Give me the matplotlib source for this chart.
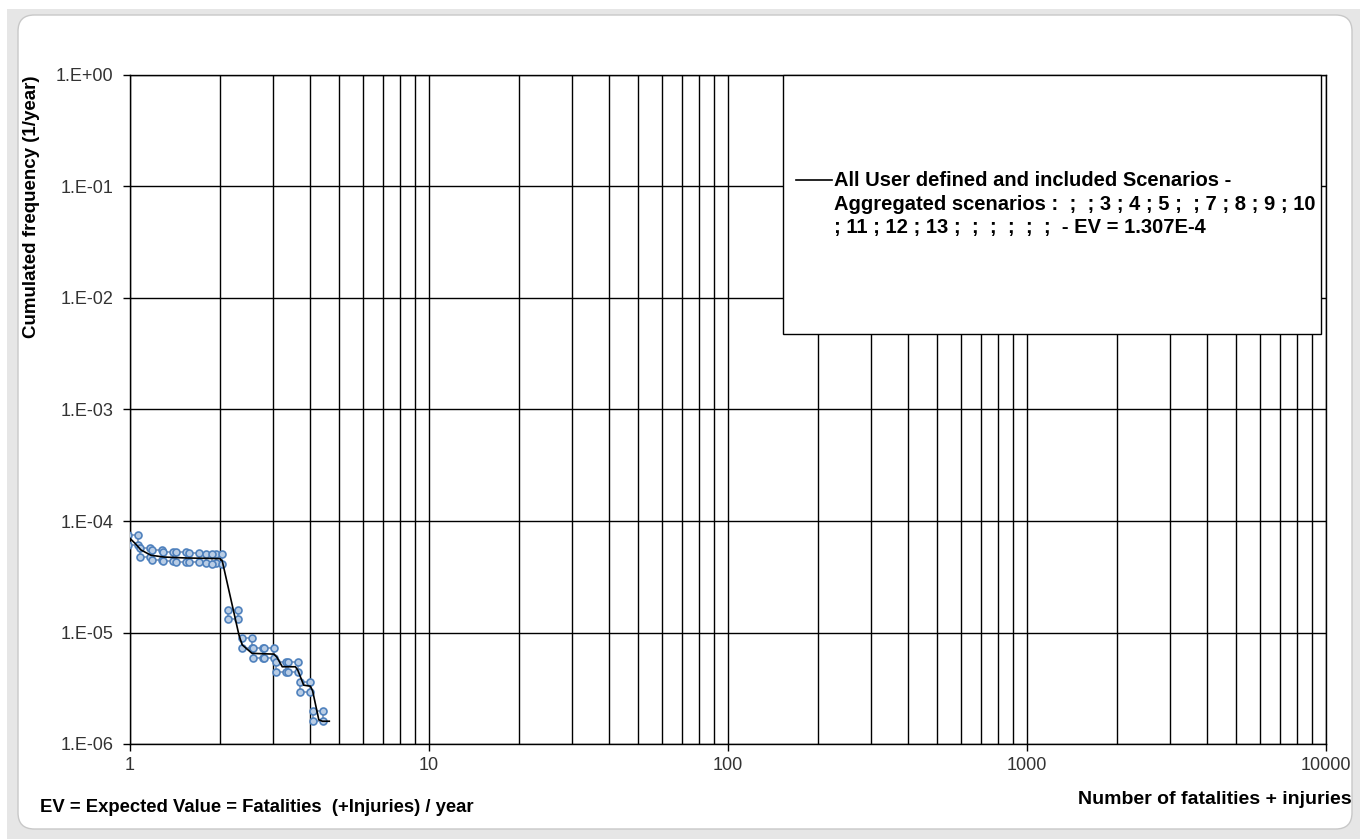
import numpy as np
import matplotlib
matplotlib.use('Agg')
import matplotlib.pyplot as plt
from matplotlib.patches import Rectangle, FancyBboxPatch
from matplotlib.lines import Line2D
from matplotlib.ticker import FixedLocator, FixedFormatter, NullFormatter

plt.rcParams['font.family'] = ['Liberation Sans', 'DejaVu Sans']

# curva F-N agregada (linha preta)
fn_x = [1.0, 1.04, 1.088, 1.175, 1.30, 1.54, 2.0, 2.035, 2.314, 2.373, 2.56, 3.03,
        3.10, 3.23, 3.575, 3.64, 3.81, 4.01, 4.08, 4.28, 4.40, 4.64]
fn_y = [6.98e-5, 6.3e-5, 5.5e-5, 4.93e-5, 4.75e-5, 4.66e-5, 4.6e-5, 4.38e-5, 9.5e-6, 7.74e-6,
        6.5e-6, 6.4e-6, 6.0e-6, 4.93e-6, 4.93e-6, 4.6e-6, 3.37e-6, 3.3e-6, 3.0e-6, 1.65e-6,
        1.6e-6, 1.6e-6]

# cenarios individuais (retangulos azuis)
sc_x = [1.02, 1.125, 1.227, 1.342, 1.486, 1.638, 1.862, 1.96,
        2.21, 2.455, 2.68, 2.91, 3.21, 3.50, 3.86, 4.24]
sc_y = [6.78e-5, 5.21e-5, 4.93e-5, 4.80e-5, 4.73e-5, 4.70e-5, 4.60e-5, 4.54e-5,
        1.45e-5, 8.05e-6, 6.5e-6, 6.5e-6, 4.93e-6, 4.93e-6, 3.26e-6, 1.77e-6]

x_ticks = [1, 10, 100, 1000, 10000]
x_labels = ['1', '10', '100', '1000', '10000']
y_ticks = [1e-6, 1e-5, 1e-4, 1e-3, 1e-2, 1e-1, 1e0]
y_labels = ['1.E-06', '1.E-05', '1.E-04', '1.E-03', '1.E-02', '1.E-01', '1.E+00']

legend_lines = ['All User defined and included Scenarios -',
                'Aggregated scenarios :  ;  ; 3 ; 4 ; 5 ;  ; 7 ; 8 ; 9 ; 10',
                '; 11 ; 12 ; 13 ;  ;  ;  ;  ;  ;  - EV = 1.307E-4']

W, H = 1360, 839
fig = plt.figure(figsize=(W / 100, H / 100), dpi=100)
fig.patch.set_facecolor('white')

# moldura do grafico (estilo Excel)
fig.patches.append(Rectangle((7 / W, 0), 1 - 7 / W, (H - 9) / H, transform=fig.transFigure,
                             facecolor='#e6e6e6', edgecolor='none', zorder=-3))
fig.patches.append(FancyBboxPatch((18 / W, 1 - 829 / H), (1352 - 18) / W, (829 - 15) / H,
                                  boxstyle='round,pad=0,rounding_size=0.012',
                                  mutation_aspect=W / H, transform=fig.transFigure,
                                  facecolor='white', edgecolor='#c8c8c8', lw=1, zorder=-2))

ax = fig.add_axes([130 / W, 1 - 744 / H, (1326 - 130) / W, (744 - 75) / H])
ax.set_facecolor('none')
ax.set_xscale('log')
ax.set_yscale('log')
ax.set_xlim(1, 10000)
ax.set_ylim(1e-6, 1)

ax.xaxis.set_major_locator(FixedLocator(x_ticks))
ax.xaxis.set_major_formatter(FixedFormatter(x_labels))
minor_x = [m * d for d in [1, 10, 100, 1000] for m in range(2, 10)]
ax.xaxis.set_minor_locator(FixedLocator(minor_x))
ax.xaxis.set_minor_formatter(NullFormatter())
ax.yaxis.set_major_locator(FixedLocator(y_ticks))
ax.yaxis.set_major_formatter(FixedFormatter(y_labels))
ax.yaxis.set_minor_locator(FixedLocator([]))

ax.grid(True, which='major', axis='both', color='black', lw=1.0)
ax.grid(True, which='minor', axis='x', color='black', lw=1.0)
ax.set_axisbelow(True)
for s in ax.spines.values():
    s.set_color('black')
    s.set_linewidth(1.0)
ax.tick_params(axis='both', which='major', direction='out', length=5, width=1.0,
               labelsize=13, labelcolor='#333333', pad=4)
ax.tick_params(axis='x', which='minor', length=0)
ax.tick_params(axis='y', pad=7)

# retangulos dos cenarios
dx, dy = 1.039, 1.106
for cx, cy in zip(sc_x, sc_y):
    rx = [cx / dx, cx * dx, cx * dx, cx / dx, cx / dx]
    ry = [cy * dy, cy * dy, cy / dy, cy / dy, cy * dy]
    ax.plot(rx, ry, color='#8a9bb5', lw=1.3, zorder=3)
    ax.plot(rx[:4], ry[:4], ls='none', marker='o', ms=5, mfc='#b9cde5',
            mec='#4f81bd', mew=1.2, zorder=4)

ax.plot(fn_x, fn_y, color='black', lw=1.2, zorder=5)

# legenda (caixa manual)
box_l, box_r, box_t, box_b = 783, 1321, 75, 334
ax.add_patch(Rectangle((box_l / W, 1 - box_b / H), (box_r - box_l) / W, (box_b - box_t) / H,
                       transform=fig.transFigure, facecolor='white', edgecolor='black',
                       lw=1.0, zorder=6, clip_on=False))
ly = [180, 204, 228]
fig.lines.append(Line2D([796 / W, 832 / W], [1 - ly[0] / H, 1 - ly[0] / H], color='black',
                        lw=1.2, transform=fig.transFigure, zorder=7))
for i, t in enumerate(legend_lines):
    fig.text(834 / W, 1 - ly[i] / H, t, fontsize=14.5, fontweight='bold', ha='left',
             va='center', zorder=7)

fig.text(32 / W, 1 - 75 / H, 'Cumulated frequency (1/year)', rotation=90, fontsize=13.5,
         fontweight='bold', ha='center', va='top')
fig.text(1352 / W, 1 - 799 / H, 'Number of fatalities + injuries', fontsize=14,
         fontweight='bold', ha='right', va='center')
fig.text(40 / W, 1 - 808 / H, 'EV = Expected Value = Fatalities  (+Injuries) / year',
         fontsize=13.3, fontweight='bold', ha='left', va='center')

fig.savefig('out.png', dpi=100)
